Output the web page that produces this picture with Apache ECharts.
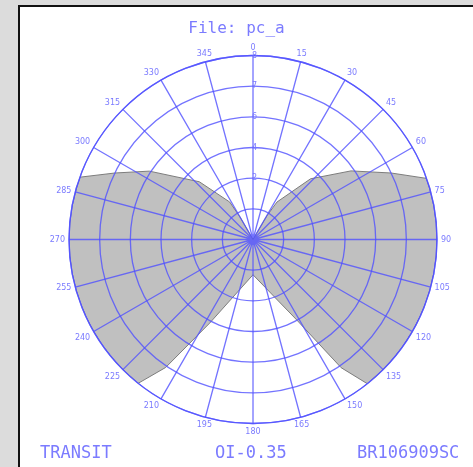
<!DOCTYPE html>
<html><head><meta charset="utf-8">
<script src="https://cdn.jsdelivr.net/npm/echarts@6/dist/echarts.min.js"></script>
<style>
html,body{margin:0;padding:0;background:#dcdcdc;overflow:hidden;}
#frame{position:absolute;left:18px;top:5px;width:455px;height:462px;background:#fff;border-left:2px solid #111;border-top:2px solid #111;box-sizing:border-box;}
#chart{position:absolute;left:0;top:0;width:473px;height:467px;}
</style></head>
<body><div id="frame"></div><div id="chart"></div>
<script>
const titleText = 'File: pc_a';
const footerLeft = 'TRANSIT';
const footerMid = 'OI-0.35';
const footerRight = 'BR106909SC';
const angleLabels = ['0','15','30','45','60','75','90','105','120','135','150','165','180','195','210','225','240','255','270','285','300','315','330','345'];
const radialLabels = ['', '', '2', '4', '6', '7', '8'];
// boundary of the shaded pattern: angle (deg, clockwise from top) and radius (ring units)
const patternAngles = [0, 30.4, 32.6, 43.5, 55, 64.3, 70.6, 75, 80, 85, 90, 95, 100, 105, 110, 115, 120, 125, 130, 135, 141.6, 145.5, 151.4, 180, 207.4, 214.3, 218.6, 225, 230, 235, 240, 245, 250, 255, 260, 265, 270, 275, 280, 285, 289.8, 295.7, 303.4, 317.1, 328.1, 330, 360];
const patternRadii  = [0, 0.89, 1.45, 2.73, 3.9, 5.0, 6, 6, 6, 6, 6, 6, 6, 6, 6, 6, 6, 6, 6, 6, 6, 5.07, 3.0, 1.15, 3.07, 5.05, 6, 6, 6, 6, 6, 6, 6, 6, 6, 6, 6, 6, 6, 6, 6, 5.0, 4.05, 2.57, 1.44, 0.85, 0];

const blue = 'rgba(80,80,255,0.8)';
const txt = '#7b7bff';
const chart = echarts.init(document.getElementById('chart'), null, {renderer:'canvas'});
const data = patternAngles.map((a, i) => [patternRadii[i], a]);
const mono = 'DejaVu Sans Mono';
chart.setOption({
  animation: false,
  backgroundColor: 'transparent',
  title: [
    {text: titleText, left: 'center', top: 16, textStyle: {fontFamily: mono, fontSize: 16, fontWeight: 'normal', color: txt}},
    {text: footerLeft, left: 35, top: 440, textStyle: {fontFamily: mono, fontSize: 17, fontWeight: 'normal', color: txt}},
    {text: footerMid, left: 210, top: 440, textStyle: {fontFamily: mono, fontSize: 17, fontWeight: 'normal', color: txt}},
    {text: footerRight, left: 352, top: 440, textStyle: {fontFamily: mono, fontSize: 17, fontWeight: 'normal', color: txt}}
  ],
  polar: {center: [253, 239.5], radius: 184},
  angleAxis: {
    type: 'value', min: 0, max: 360, interval: 15, startAngle: 90, clockwise: true, z: 5,
    axisLine: {show: true, lineStyle: {color: blue, width: 1.3}},
    axisTick: {show: false},
    splitLine: {show: true, lineStyle: {color: blue, width: 1.3}},
    axisLabel: {show: true, margin: 4, fontSize: 8, fontFamily: 'DejaVu Sans', color: txt,
      formatter: v => { const i = Math.round(v / 15); return i < angleLabels.length ? angleLabels[i] : ''; }}
  },
  radiusAxis: {
    type: 'value', min: 0, max: 6, interval: 1, z: 5,
    axisLine: {show: false},
    axisTick: {show: false},
    splitLine: {show: true, lineStyle: {color: blue, width: 1.3}},
    axisLabel: {show: true, margin: -4, fontSize: 8, fontFamily: 'DejaVu Sans', color: txt,
      formatter: v => radialLabels[Math.round(v)] || ''}
  },
  series: [{
    type: 'line', coordinateSystem: 'polar', data: data, symbol: 'none', z: 1,
    lineStyle: {color: '#7d7d7d', width: 1},
    areaStyle: {color: '#c0c0c0', opacity: 1}
  }]
});
</script></body></html>
